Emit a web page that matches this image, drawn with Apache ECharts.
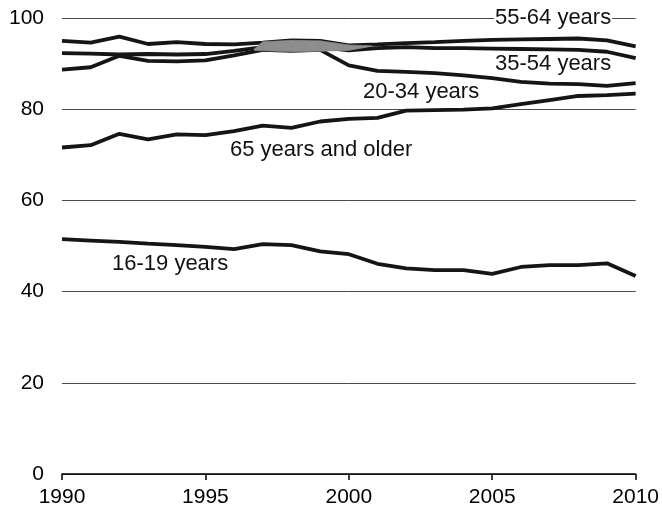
<!DOCTYPE html>
<html><head><meta charset="utf-8">
<script src="https://cdn.jsdelivr.net/npm/echarts@6/dist/echarts.min.js"></script>
<style>html,body{margin:0;padding:0;background:#fff}#c{width:662px;height:510px}</style>
</head><body><div id="c"></div>
<script>
const years = [1990,1991,1992,1993,1994,1995,1996,1997,1998,1999,2000,2001,2002,2003,2004,2005,2006,2007,2008,2009,2010];
const age16_19 = [51.5,51.2,50.9,50.5,50.2,49.8,49.3,50.4,50.2,48.8,48.2,46.1,45.1,44.7,44.7,43.9,45.4,45.8,45.8,46.2,43.4];
const age20_34 = [88.7,89.2,91.7,90.6,90.5,90.7,91.8,93.0,92.8,93.0,89.6,88.4,88.2,87.9,87.4,86.8,86.0,85.6,85.5,85.1,85.7];
const age35_54 = [92.3,92.2,92.0,92.1,92.0,92.1,92.8,93.6,93.8,93.6,92.9,93.4,93.6,93.4,93.4,93.3,93.2,93.1,93.0,92.6,91.2];
const age55_64 = [95.0,94.6,95.9,94.3,94.7,94.3,94.2,94.6,95.1,95.0,94.0,94.2,94.5,94.7,95.0,95.2,95.3,95.4,95.5,95.1,93.8];
const age65plus = [71.6,72.1,74.6,73.4,74.5,74.3,75.2,76.4,75.9,77.3,77.9,78.1,79.7,79.8,79.9,80.2,81.1,82.0,82.9,83.1,83.4];
const bandYears = [1996.7,1997,1998,1999,2000,2000.8];
const bandLow =  [92.9,92.8,92.6,92.7,92.9,93.8];
const bandHigh = [93.2,94.8,95.1,95.0,94.1,93.9];
const xTicks = [1990,1995,2000,2005,2010];
const yTicks = [0,20,40,60,80,100];
const seriesNames = ['16-19 years','20-34 years','35-54 years','55-64 years','65 years and older'];

const chart = echarts.init(document.getElementById('c'), null, {renderer:'canvas'});
const pairs = arr => years.map((y,i)=>[y, arr[i]]);
const bandSegs = [];
for (let i=0;i<bandYears.length-1;i++){
  bandSegs.push([bandYears[i],bandLow[i],bandHigh[i],bandYears[i+1],bandLow[i+1],bandHigh[i+1]]);
}
const lineStyle = {color:'#151515', width:3.8};
const mkLine = (name, arr) => ({
  name, type:'line', data:pairs(arr), symbol:'none', smooth:false,
  lineStyle, z:3, animation:false
});
const font = '22px "Liberation Sans", Arial, sans-serif';
const labelsPos = [
  {text:'55-64 years', x:494, y:18, bg:true},
  {text:'35-54 years', x:495, y:64},
  {text:'20-34 years', x:363, y:92},
  {text:'65 years and older', x:230, y:150},
  {text:'16-19 years', x:112, y:264}
];
chart.setOption({
  animation:false,
  backgroundColor:'#fff',
  grid:{left:62, right:25, top:18, bottom:36},
  xAxis:{type:'value', min:xTicks[0], max:xTicks[xTicks.length-1], interval:5,
    axisLine:{show:true, onZero:false, lineStyle:{color:'#000', width:1.5}},
    axisTick:{show:true, length:6, lineStyle:{color:'#000', width:1.5}},
    splitLine:{show:false},
    axisLabel:{color:'#000', fontSize:21, fontFamily:'"Liberation Sans", Arial, sans-serif', margin:13,
      formatter:v=>String(v)}
  },
  yAxis:{type:'value', min:yTicks[0], max:yTicks[yTicks.length-1], interval:20,
    axisLine:{show:false}, axisTick:{show:false},
    splitLine:{show:true, lineStyle:{color:'#4a4a4a', width:1}},
    axisLabel:{color:'#000', fontSize:21, fontFamily:'"Liberation Sans", Arial, sans-serif', margin:18}
  },
  series:[
    mkLine(seriesNames[0], age16_19),
    mkLine(seriesNames[1], age20_34),
    mkLine(seriesNames[2], age35_54),
    mkLine(seriesNames[3], age55_64),
    mkLine(seriesNames[4], age65plus),
    {type:'custom', data:bandSegs, z:4, silent:true,
      encode:{x:[0,3], y:[1,2,4,5]},
      renderItem:(params, api)=>{
        const p1 = api.coord([api.value(0), api.value(1)]);
        const p2 = api.coord([api.value(3), api.value(4)]);
        const p3 = api.coord([api.value(3), api.value(5)]);
        const p4 = api.coord([api.value(0), api.value(2)]);
        return {type:'polygon', shape:{points:[p1,p2,p3,p4]}, style:{fill:'#8e8e8e', stroke:'#8e8e8e', lineWidth:0.6}};
      }
    }
  ],
  graphic: labelsPos.map(l=>({
    type:'text', x:l.x, y:l.y, z:10,
    style:{text:l.text, font, fill:'#111', verticalAlign:'middle', align:'left',
      backgroundColor: l.bg ? '#fff' : 'transparent', padding: l.bg ? [0,1,0,1] : 0}
  }))
});
</script></body></html>
